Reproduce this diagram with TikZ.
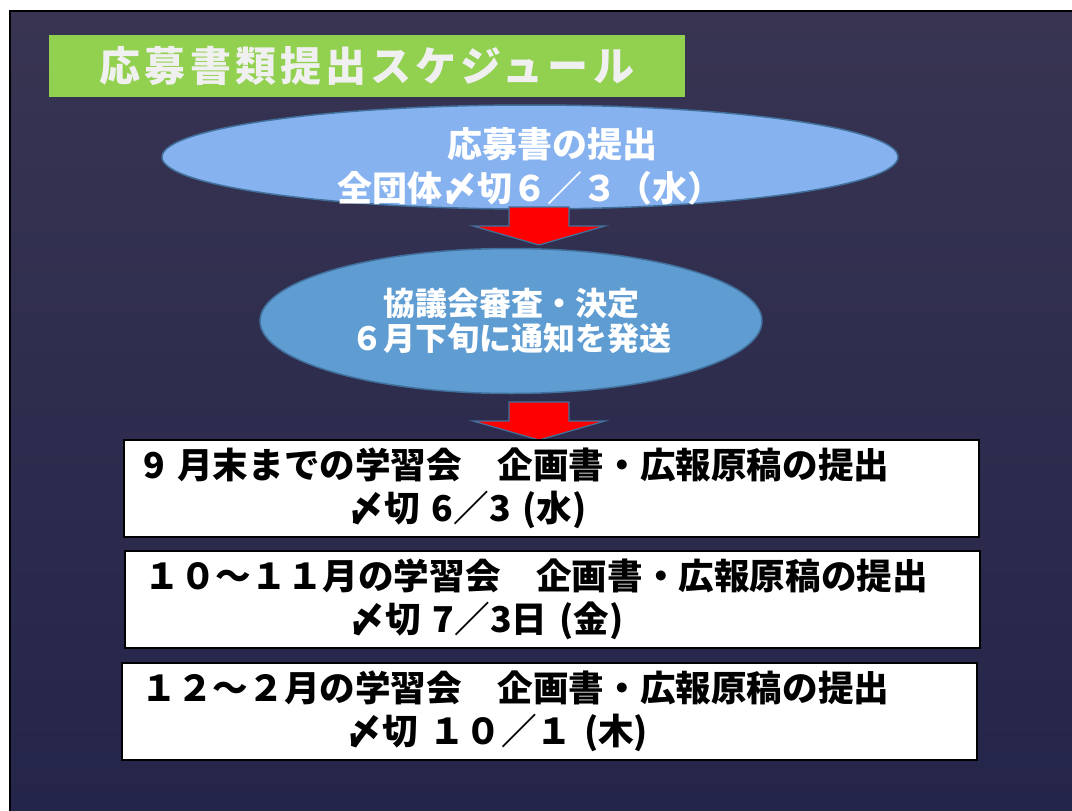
\documentclass[tikz,border=0pt]{standalone}
\usepackage{fontspec}
\setmainfont{Noto Sans CJK JP}
\newfontfamily\titlefont{Noto Sans CJK JP}[LetterSpace=10]
\usetikzlibrary{shapes.geometric}
\definecolor{bgtop}{RGB}{56,52,82}
\definecolor{bgbot}{RGB}{36,37,74}
\definecolor{titlegreen}{RGB}{146,208,80}
\definecolor{titletext}{RGB}{240,240,240}
\definecolor{ellA}{RGB}{135,178,240}
\definecolor{ellB}{RGB}{95,156,210}
\definecolor{edgeblue}{RGB}{65,113,156}
\tikzset{
  titlebox/.style={fill=titlegreen, minimum width=636pt, minimum height=62pt, inner sep=0pt,
    text=titletext, font=\titlefont\bfseries\fontsize{41}{41}\selectfont},
  ellbox/.style={ellipse, draw=edgeblue, line width=1.5pt, inner sep=0pt, text=white, align=center},
  elltext/.style={inner sep=0pt, text=white, align=center},
  schedbox/.style={draw=black, line width=1.5pt, fill=white, anchor=north west,
    minimum width=855pt, minimum height=97pt, inner xsep=20pt, inner ysep=0pt,
    text width=815pt, align=left, text=black, font=\bfseries\fontsize{35.6}{43}\selectfont},
  downarrow/.pic={\draw[fill=red, draw=edgeblue, line width=1.2pt, line join=miter]
    (-30,0) -- (30,0) -- (30,19) -- (66,19) -- (0,38) -- (-66,19) -- (-30,19) -- cycle;}
}
\begin{document}
\begin{tikzpicture}[x=1pt,y=-1pt]
\useasboundingbox (0,0) rectangle (1072,811);
\fill[white] (0,0) rectangle (1072,811);
\shade[top color=bgtop, bottom color=bgbot] (10,11) rectangle (1072,811);
\draw[black, line width=2pt] (10,811) -- (10,11) -- (1072,11);

\node[titlebox] (title) at (367,66) {応募書類提出スケジュール};

\node[ellbox, fill=ellA, minimum width=736pt, minimum height=104pt] (e1) at (530,157) {};
\node[elltext, font=\bfseries\fontsize{35}{44}\selectfont] (e1text) at ([yshift=-9pt]e1.center)
  {\hspace*{44pt}応募書の提出\\全団体〆切６／３（水）};

\pic at (539,207) {downarrow};

\node[ellbox, fill=ellB, minimum width=502pt, minimum height=145pt,
  font=\bfseries\fontsize{32}{35}\selectfont] (e2) at (511,321)
  {協議会審査・決定\\６月下旬に通知を発送};

\pic at (539,402) {downarrow};

\node[schedbox] (b1) at (123,439)
  {9 月末までの学習会　企画書・広報原稿の提出\\\hspace*{205pt}〆切 6／3 (水)};
\node[schedbox] (b2) at (124,550)
  {１０～１１月の学習会　企画書・広報原稿の提出\\\hspace*{205pt}〆切 7／3日 (金)};
\node[schedbox] (b3) at (121,662)
  {１２～２月の学習会　企画書・広報原稿の提出\\\hspace*{205pt}〆切 １０／１ (木)};
\end{tikzpicture}
\end{document}
